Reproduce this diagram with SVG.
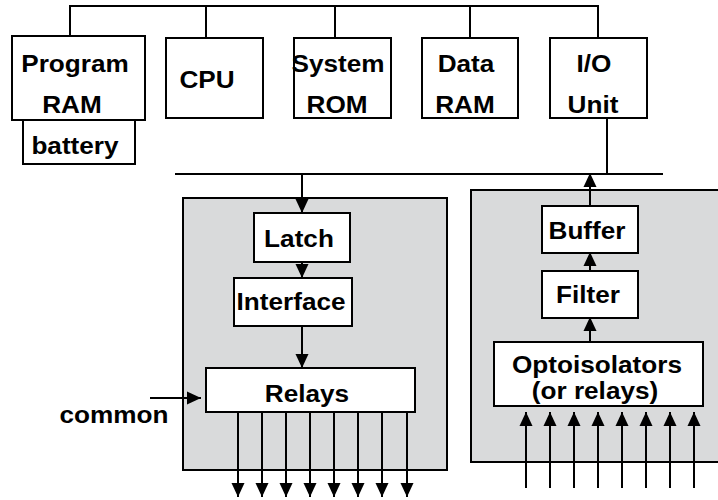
<svg xmlns="http://www.w3.org/2000/svg" width="718" height="500" viewBox="0 0 718 500">
<style>
.box{fill:#fff;stroke:#000;stroke-width:2}
.panel{fill:#d9dadb;stroke:#000;stroke-width:2}
.ln{fill:none;stroke:#000;stroke-width:2}
.t{font-family:"Liberation Sans",Arial,sans-serif;font-weight:bold;font-size:24px;fill:#000;text-anchor:middle}
</style>
<defs>
<marker id="ah" markerUnits="userSpaceOnUse" markerWidth="14" markerHeight="14" refX="14" refY="7" orient="auto">
<path d="M0,0.5 L14,7 L0,13.5 Z" fill="#000"/>
</marker>
</defs>
<rect width="718" height="500" fill="#fff"/>
<g id="leftPanel"><rect class="panel" x="183" y="198" width="264" height="272"/></g>
<g id="rightPanel"><rect class="panel" x="471" y="190" width="250" height="272"/></g>
<g id="connectors">
<path class="ln" d="M70,36 V6 H598 V38 M206,6 V38 M335,6 V38 M470,6 V38"/>
<path class="ln" d="M175,174 H663 M607,118 V174"/>
<path class="ln" d="M302,174 V213" marker-end="url(#ah)"/>
<path class="ln" d="M302,252 V278" marker-end="url(#ah)"/>
<path class="ln" d="M302,326 V368" marker-end="url(#ah)"/>
<path class="ln" d="M150,398 H201" marker-end="url(#ah)"/>
<path class="ln" d="M238,412 V497" marker-end="url(#ah)"/>
<path class="ln" d="M262,412 V497" marker-end="url(#ah)"/>
<path class="ln" d="M286,412 V497" marker-end="url(#ah)"/>
<path class="ln" d="M310,412 V497" marker-end="url(#ah)"/>
<path class="ln" d="M334,412 V497" marker-end="url(#ah)"/>
<path class="ln" d="M358,412 V497" marker-end="url(#ah)"/>
<path class="ln" d="M382,412 V497" marker-end="url(#ah)"/>
<path class="ln" d="M407,412 V497" marker-end="url(#ah)"/>
<path class="ln" d="M590,206 V173" marker-end="url(#ah)"/>
<path class="ln" d="M590,271 V252" marker-end="url(#ah)"/>
<path class="ln" d="M590,342 V317" marker-end="url(#ah)"/>
<path class="ln" d="M526,488 V412" marker-end="url(#ah)"/>
<path class="ln" d="M550,488 V412" marker-end="url(#ah)"/>
<path class="ln" d="M574,488 V412" marker-end="url(#ah)"/>
<path class="ln" d="M598,488 V412" marker-end="url(#ah)"/>
<path class="ln" d="M622,488 V412" marker-end="url(#ah)"/>
<path class="ln" d="M646,488 V412" marker-end="url(#ah)"/>
<path class="ln" d="M670,488 V412" marker-end="url(#ah)"/>
<path class="ln" d="M694,488 V412" marker-end="url(#ah)"/>
</g>
<g id="programRam"><rect class="box" x="12" y="36" width="133" height="84"/><text class="t" transform="translate(75 72) scale(1.09 1)">Program</text><text class="t" transform="translate(72 113) scale(1.09 1)">RAM</text></g>
<g id="battery"><rect class="box" x="23" y="120" width="112" height="44"/><text class="t" transform="translate(75 154) scale(1.09 1)">battery</text></g>
<g id="cpu"><rect class="box" x="166" y="38" width="97" height="80"/><text class="t" transform="translate(207 88) scale(1.09 1)">CPU</text></g>
<g id="systemRom"><rect class="box" x="294" y="38" width="97" height="80"/><text class="t" transform="translate(338 72) scale(1.09 1)">System</text><text class="t" transform="translate(337 113) scale(1.09 1)">ROM</text></g>
<g id="dataRam"><rect class="box" x="422" y="38" width="96" height="80"/><text class="t" transform="translate(466 72) scale(1.09 1)">Data</text><text class="t" transform="translate(465 113) scale(1.09 1)">RAM</text></g>
<g id="ioUnit"><rect class="box" x="550" y="38" width="97" height="80"/><text class="t" transform="translate(594 72) scale(1.09 1)">I/O</text><text class="t" transform="translate(593 113) scale(1.09 1)">Unit</text></g>
<g id="latch"><rect class="box" x="254" y="213" width="96" height="49"/><text class="t" transform="translate(299 247) scale(1.09 1)">Latch</text></g>
<g id="interface"><rect class="box" x="234" y="278" width="118" height="48"/><text class="t" transform="translate(291 310) scale(1.09 1)">Interface</text></g>
<g id="relays"><rect class="box" x="206" y="368" width="209" height="44"/><text class="t" transform="translate(307 402) scale(1.09 1)">Relays</text></g>
<g id="common"><text class="t" transform="translate(114 423) scale(1.09 1)">common</text></g>
<g id="buffer"><rect class="box" x="542" y="206" width="96" height="47"/><text class="t" transform="translate(587 239) scale(1.09 1)">Buffer</text></g>
<g id="filter"><rect class="box" x="542" y="271" width="96" height="47"/><text class="t" transform="translate(588 303) scale(1.09 1)">Filter</text></g>
<g id="opto"><rect class="box" x="494" y="342" width="209" height="64"/><text class="t" transform="translate(597 373) scale(1.09 1)">Optoisolators</text><text class="t" transform="translate(595 399) scale(1.09 1)">(or relays)</text></g>
</svg>
